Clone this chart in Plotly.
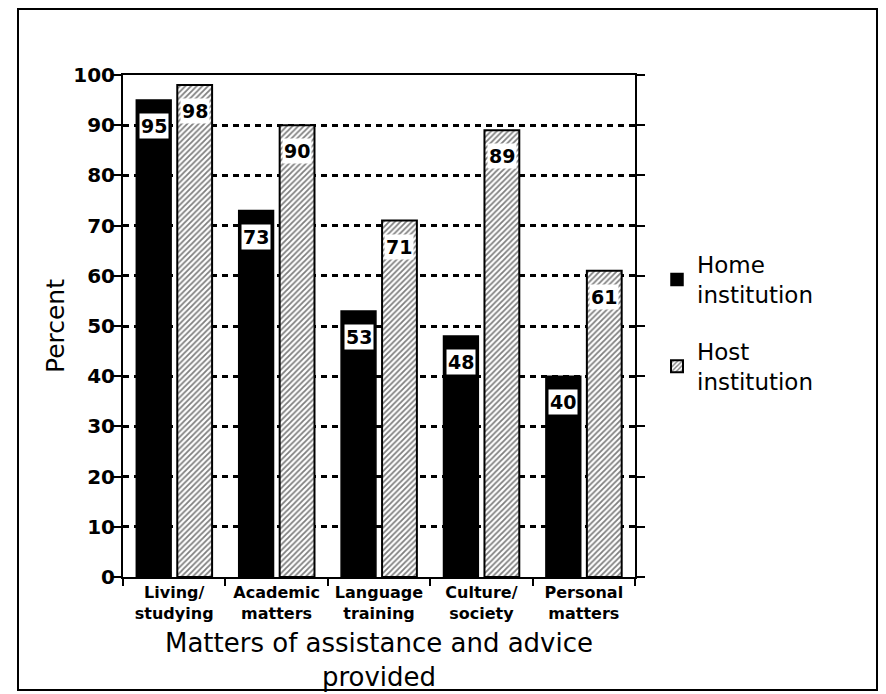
import plotly.graph_objects as go

categories = ["Living/<br>studying", "Academic<br>matters", "Language<br>training",
              "Culture/<br>society", "Personal<br>matters"]
home_values = [95, 73, 53, 48, 40]
host_values = [98, 90, 71, 89, 61]
series_names = ["Home<br>institution", "Host<br>institution"]
y_ticks = [0, 10, 20, 30, 40, 50, 60, 70, 80, 90, 100]

W, H = 886, 694
BODY = 8  # default page margin of the html body
# plot box in screen pixels
SL, SR, ST, SB = 123, 635, 75, 577
ML, MT = SL - BODY, ST - BODY
MR, MB = W - (SR - BODY), H - (SB - BODY)
BARGAP = 0.2
FONT = "DejaVu Sans"

fig = go.Figure()
fig.add_trace(go.Bar(
    x=categories, y=home_values, name=series_names[0],
    marker=dict(color="black", line=dict(color="black", width=1.5)),
    legendgroup="a",
))
fig.add_trace(go.Bar(
    x=categories, y=host_values, name=series_names[1],
    marker=dict(color="white", line=dict(color="black", width=2),
                pattern=dict(shape="/", fgcolor="black", bgcolor="white",
                             size=4, solidity=0.45)),
    legendgroup="b",
))
# empty helper trace so the overlaid axis (inner tick marks) is drawn
fig.add_trace(go.Scatter(x=[], y=[], yaxis="y2", showlegend=False,
                         hoverinfo="skip"))

plot_w = SR - SL
plot_h = SB - ST
cat_px = plot_w / len(categories)
slot = (1 - BARGAP) * cat_px / 2
annotations = []
for vals, sign in ((home_values, -1), (host_values, 1)):
    for c, v in zip(categories, vals):
        annotations.append(dict(
            x=c, y=v, xref="x", yref="y", text=f"<b>{v}</b>",
            showarrow=False, xshift=sign * slot / 2, yshift=-13,
            yanchor="top", bgcolor="white", borderpad=1,
            font=dict(family=FONT, size=19, color="black"),
        ))

def px_x(p):
    return (p - SL) / plot_w

def px_y(p):
    return (SB - p) / plot_h

fig.update_layout(
    width=W, height=H,
    margin=dict(l=ML, r=MR, t=MT, b=MB, autoexpand=False),
    paper_bgcolor="white", plot_bgcolor="white",
    barmode="group", bargap=BARGAP, bargroupgap=0.15,
    font=dict(family=FONT, color="black"),
    showlegend=True,
    legend=dict(x=px_x(657), y=px_y(243), xanchor="left", yanchor="top",
                font=dict(family=FONT, size=23, color="black"),
                traceorder="grouped", tracegroupgap=24,
                bgcolor="rgba(0,0,0,0)"),
    annotations=annotations,
    shapes=[dict(type="rect", xref="paper", yref="paper",
                 x0=px_x(18), x1=px_x(877), y0=px_y(690), y1=px_y(9),
                 line=dict(color="black", width=2), layer="below")],
    yaxis2=dict(overlaying="y", matches="y", side="left", showline=False,
                ticks="inside", ticklen=5, tickwidth=2, tickcolor="black",
                tickvals=y_ticks, showticklabels=False, showgrid=False,
                zeroline=False, mirror="ticks", automargin=False),
)
fig.update_xaxes(
    type="category", automargin=False, tickangle=0,
    showline=True, linecolor="black", linewidth=2, mirror=True,
    ticks="outside", ticklen=7, tickwidth=2, tickcolor="black",
    tickson="boundaries",
    tickfont=dict(family=FONT, size=16, color="black", weight="bold"),
    title=dict(text="Matters of assistance and advice<br>provided",
               font=dict(family=FONT, size=26, color="black"), standoff=12),
    showgrid=False,
)
fig.update_yaxes(
    selector=dict(overlaying=None),
    range=[0, 100], tickvals=y_ticks, automargin=False,
    showline=True, linecolor="black", linewidth=2, mirror="ticks",
    ticks="outside", ticklen=8, tickwidth=2, tickcolor="black",
    ticklabelstandoff=-6,
    tickfont=dict(family=FONT, size=20, color="black", weight="bold"),
    showgrid=True, gridcolor="black", gridwidth=2.5, griddash="6px,5px",
    zeroline=False,
    title=dict(text="Percent", font=dict(family=FONT, size=25, color="black"),
               standoff=2),
)

fig.write_html("out.html")
